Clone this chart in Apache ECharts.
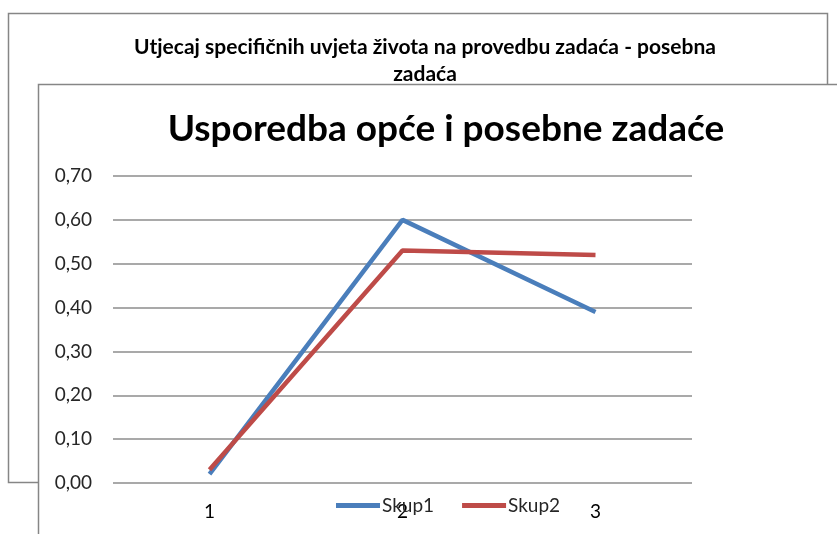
<!DOCTYPE html>
<html><head><meta charset="utf-8">
<script src="https://cdn.jsdelivr.net/npm/echarts@6/dist/echarts.min.js"></script>
<style>html,body{margin:0;padding:0;background:#fff}#c{width:837px;height:534px}</style>
</head><body><div id="c"></div>
<script>
var categories = ['1', '2', '3'];
var skup1 = [0.02, 0.60, 0.39];
var skup2 = [0.03, 0.53, 0.52];
var seriesNames = ['Skup1', 'Skup2'];
var backTitle = 'Utjecaj specifičnih uvjeta života na provedbu zadaća - posebna\nzadaća';
var frontTitle = 'Usporedba opće i posebne zadaće';

var FONT = 'Lato, "Open Sans", sans-serif';
var chart = echarts.init(document.getElementById('c'), null, {renderer: 'canvas'});
chart.setOption({
  animation: false,
  backgroundColor: '#fff',
  graphic: {
    elements: [
      {type: 'rect', z: -20, shape: {x: 8.5, y: 13.5, width: 819, height: 469},
       style: {fill: '#fff', stroke: '#868686', lineWidth: 1.5}},
      {type: 'rect', z: -10, shape: {x: 38.5, y: 84.5, width: 820, height: 470},
       style: {fill: '#fff', stroke: '#868686', lineWidth: 1.5}}
    ]
  },
  title: [
    {text: backTitle, left: 420, top: 29, textAlign: 'center', z: 5,
     textStyle: {fontFamily: FONT, fontSize: 21, fontWeight: 'bold', color: '#000', lineHeight: 27}},
    {text: frontTitle, left: 441, top: 106, textAlign: 'center', z: 5,
     textStyle: {fontFamily: FONT, fontSize: 37, fontWeight: 'bold', color: '#000'}}
  ],
  legend: {
    left: 331, top: 491, itemWidth: 44, itemHeight: 5, itemGap: 28, icon: 'rect',
    textStyle: {fontFamily: FONT, fontSize: 19, color: '#262626', padding: [0, 0, 0, -3]},
    data: seriesNames
  },
  grid: {left: 113, right: 145, top: 176, bottom: 51, containLabel: false},
  xAxis: {
    type: 'category', data: categories, boundaryGap: true,
    axisLine: {show: false}, axisTick: {show: false},
    axisLabel: {fontFamily: FONT, fontSize: 19, color: '#000', margin: 19}
  },
  yAxis: {
    type: 'value', min: 0, max: 0.7, interval: 0.1,
    axisLine: {show: false}, axisTick: {show: false},
    splitLine: {lineStyle: {color: '#8c8c8c', width: 1.5}},
    axisLabel: {fontFamily: FONT, fontSize: 19, color: '#262626', margin: 21,
      formatter: function (v) { return v.toFixed(2).replace('.', ','); }}
  },
  series: [
    {name: seriesNames[0], type: 'line', data: skup1, symbol: 'none', z: 3,
     lineStyle: {width: 4.5, color: '#4A7EBB'}, itemStyle: {color: '#4A7EBB'}},
    {name: seriesNames[1], type: 'line', data: skup2, symbol: 'none', z: 4,
     lineStyle: {width: 4.5, color: '#BE4B48'}, itemStyle: {color: '#BE4B48'}}
  ]
});
</script></body></html>
